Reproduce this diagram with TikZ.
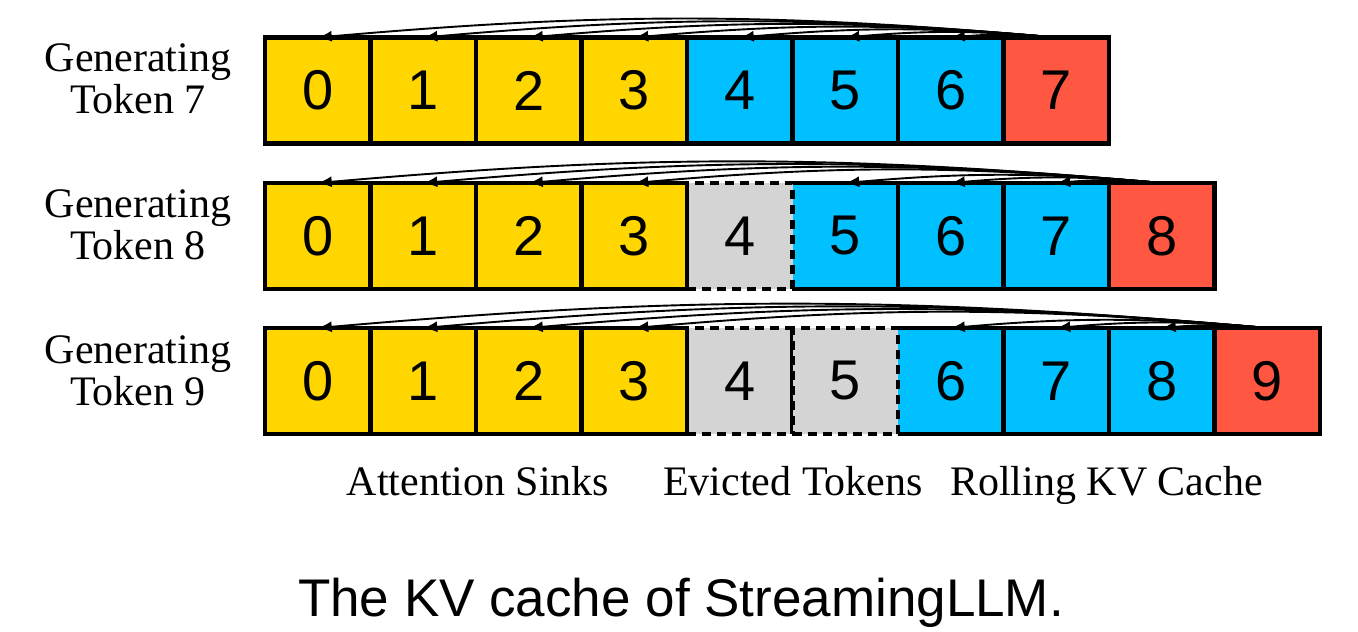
\documentclass[tikz,border=0pt]{standalone}
\usepackage{fontspec}
\setmainfont{Liberation Serif}
\newfontfamily\digitfont{Liberation Sans}
\usepackage{xcolor}
\usetikzlibrary{arrows.meta}
\definecolor{sinkyellow}{RGB}{255,214,0}
\definecolor{rollblue}{RGB}{0,192,255}
\definecolor{currred}{RGB}{255,87,66}
\definecolor{evictgray}{RGB}{212,212,212}

\begin{document}
\begin{tikzpicture}[x=1pt,y=1pt,
  cell/.style={rectangle,minimum width=105.5pt,minimum height=106pt,inner sep=0pt,outer sep=0pt,line width=4.5pt,font=\digitfont\fontsize{56}{56}\selectfont},
  sink/.style={cell,fill=sinkyellow,draw},
  evict/.style={cell,fill=evictgray,draw,dash pattern=on 9pt off 6pt},
  roll/.style={cell,fill=rollblue},
  curr/.style={cell,fill=currred},
  rim/.style={line width=4.5pt},
  attn/.style={-{Latex[length=14pt,width=11pt]},line width=1.9pt,bend right=5},
  rowlabel/.style={align=center,font=\fontsize{42}{42}\selectfont},
  legend/.style={anchor=base,font=\fontsize{42}{42}\selectfont}]
\useasboundingbox (0,0) rectangle (1358,632);

% Generating Token 7
\node[roll] (a4) at (739.75,541.5) {4};
\node[roll] (a5) at (845.25,541.5) {5};
\node[roll] (a6) at (950.75,541.5) {6};
\node[curr] (a7) at (1056.25,541.5) {7};
\node[sink] (a0) at (317.75,541.5) {0};
\node[sink] (a1) at (423.25,541.5) {1};
\node[sink] (a2) at (528.75,541.5) {2};
\node[sink] (a3) at (634.25,541.5) {3};
\draw[rim] (a4.north west) -- (a7.north east) -- (a7.south east) -- (a4.south west);
\draw[rim] (a4.north east) -- (a4.south east);
\draw[rim] (a5.north east) -- (a5.south east);
\draw[rim] (a6.north east) -- (a6.south east);

% Generating Token 8
\node[roll] (b5) at (845.25,396) {5};
\node[roll] (b6) at (950.75,396) {6};
\node[roll] (b7) at (1056.25,396) {7};
\node[curr] (b8) at (1161.75,396) {8};
\node[evict] (b4) at (739.75,396) {4};
\node[sink] (b0) at (317.75,396) {0};
\node[sink] (b1) at (423.25,396) {1};
\node[sink] (b2) at (528.75,396) {2};
\node[sink] (b3) at (634.25,396) {3};
\draw[rim] (b5.north west) -- (b8.north east) -- (b8.south east) -- (b5.south west);
\draw[rim] (b5.north east) -- (b5.south east);
\draw[rim] (b6.north east) -- (b6.south east);
\draw[rim] (b7.north east) -- (b7.south east);

% Generating Token 9
\node[roll] (c6) at (950.75,251) {6};
\node[roll] (c7) at (1056.25,251) {7};
\node[roll] (c8) at (1161.75,251) {8};
\node[curr] (c9) at (1267.25,251) {9};
\node[evict] (c4) at (739.75,251) {4};
\node[evict] (c5) at (845.25,251) {5};
\node[sink] (c0) at (317.75,251) {0};
\node[sink] (c1) at (423.25,251) {1};
\node[sink] (c2) at (528.75,251) {2};
\node[sink] (c3) at (634.25,251) {3};
\draw[rim] (c6.north west) -- (c9.north east) -- (c9.south east) -- (c6.south west);
\draw[rim] (c6.north east) -- (c6.south east);
\draw[rim] (c7.north east) -- (c7.south east);
\draw[rim] (c8.north east) -- (c8.south east);

% attention
\path (a7.north) edge[attn] (a0.north);
\path (a7.north) edge[attn] (a1.north);
\path (a7.north) edge[attn] (a2.north);
\path (a7.north) edge[attn] (a3.north);
\path (a7.north) edge[attn] (a4.north);
\path (a7.north) edge[attn] (a5.north);
\path (a7.north) edge[attn] (a6.north);
\path (b8.north) edge[attn] (b0.north);
\path (b8.north) edge[attn] (b1.north);
\path (b8.north) edge[attn] (b2.north);
\path (b8.north) edge[attn] (b3.north);
\path (b8.north) edge[attn] (b5.north);
\path (b8.north) edge[attn] (b6.north);
\path (b8.north) edge[attn] (b7.north);
\path (c9.north) edge[attn] (c0.north);
\path (c9.north) edge[attn] (c1.north);
\path (c9.north) edge[attn] (c2.north);
\path (c9.north) edge[attn] (c3.north);
\path (c9.north) edge[attn] (c6.north);
\path (c9.north) edge[attn] (c7.north);
\path (c9.north) edge[attn] (c8.north);

% labels
\node[rowlabel] (ga) at (138,553) {Generating\\Token 7};
\node[rowlabel] (gb) at (138,407) {Generating\\Token 8};
\node[rowlabel] (gc) at (138,261) {Generating\\Token 9};
\node[legend] (lsink) at (478,136) {Attention Sinks};
\node[legend] (levict) at (793,136) {Evicted Tokens};
\node[legend] (lroll) at (1106.5,136) {Rolling KV Cache};
\node[anchor=base,font=\digitfont\fontsize{53}{53}\selectfont] (title) at (681,15) {The KV cache of StreamingLLM.};
\end{tikzpicture}
\end{document}
